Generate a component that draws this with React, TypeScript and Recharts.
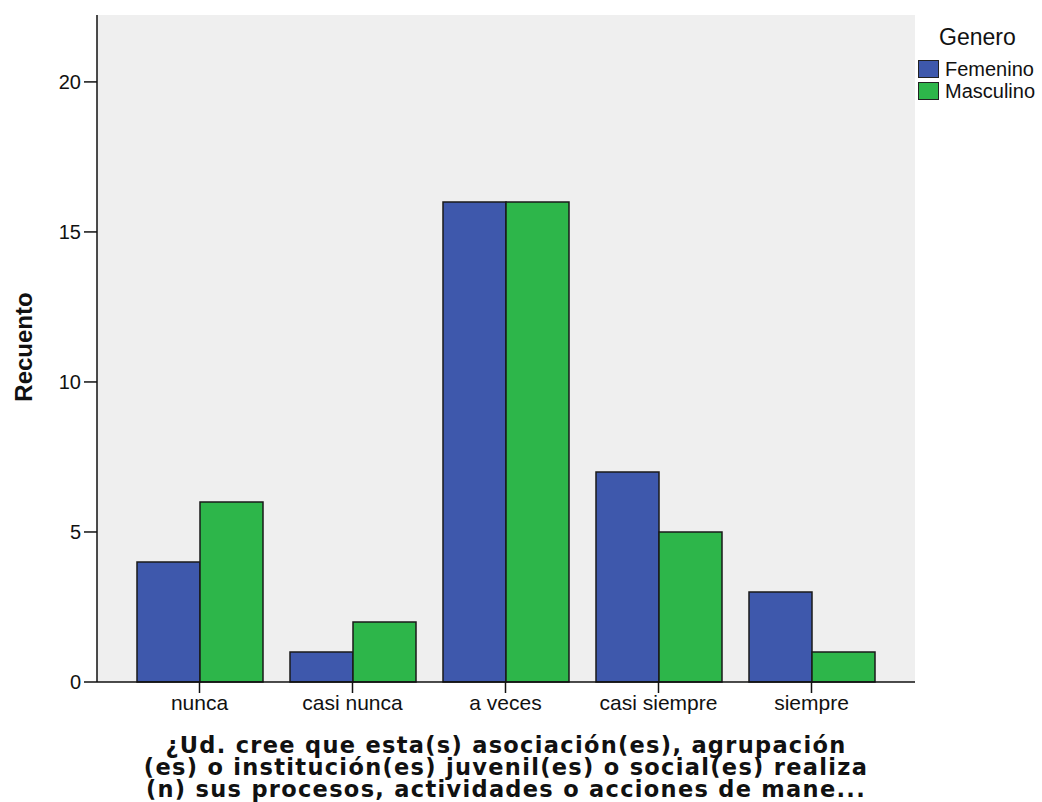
import { BarChart, Bar, XAxis, YAxis, CartesianGrid, Legend } from 'recharts';

const categories = ['nunca', 'casi nunca', 'a veces', 'casi siempre', 'siempre'];
const femenino = [4, 1, 16, 7, 3];
const masculino = [6, 2, 16, 5, 1];
const yTicks = [0, 5, 10, 15, 20];
const titleLines = [
  '¿Ud. cree que esta(s) asociación(es), agrupación',
  '(es) o institución(es) juvenil(es) o social(es) realiza',
  '(n) sus procesos, actividades o acciones de mane...',
];

const BLUE = '#3E58AC';
const GREEN = '#2DB64A';
const SANS = '"Liberation Sans", Arial, sans-serif';

const data = categories.map((c, i) => ({
  name: c,
  Femenino: femenino[i],
  Masculino: masculino[i],
}));

function GeneroLegend() {
  const items = [
    { label: 'Femenino', color: BLUE },
    { label: 'Masculino', color: GREEN },
  ];
  return (
    <div style={{ fontFamily: SANS, color: '#111' }}>
      <div style={{ fontSize: 23, marginLeft: 21, lineHeight: '26px' }}>Genero</div>
      <div style={{ marginTop: 8 }}>
        {items.map((it) => (
          <div key={it.label} style={{ display: 'flex', alignItems: 'center', height: 22 }}>
            <span
              style={{
                display: 'inline-block',
                width: 19,
                height: 16,
                background: it.color,
                border: '1px solid #222',
                marginRight: 6,
              }}
            />
            <span style={{ fontSize: 20 }}>{it.label}</span>
          </div>
        ))}
      </div>
    </div>
  );
}

export default function App() {
  return (
    <div style={{ position: 'absolute', left: 0, top: 0, background: '#fff' }}>
      <BarChart
        width={1042}
        height={802}
        data={data}
        margin={{ top: 15, right: 127, bottom: 90, left: 0 }}
        barGap={0}
        barSize={63}
      >
        <CartesianGrid horizontal={false} vertical={false} fill="#EFEFEF" />
        <XAxis
          dataKey="name"
          height={30}
          padding={{ left: 26, right: 27 }}
          tickSize={11}
          tickLine={{ stroke: '#111', strokeWidth: 1.5 }}
          axisLine={{ stroke: '#111', strokeWidth: 1.5 }}
          tick={{ fill: '#111', fontSize: 21, fontFamily: SANS }}
          interval={0}
          label={{
            position: 'bottom',
            content: () => (
              <text
                x={506}
                textAnchor="middle"
                fill="#111"
                style={{
                  fontFamily: '"DejaVu Sans", Verdana, sans-serif',
                  fontWeight: 'bold',
                  fontSize: 22.5,
                  letterSpacing: 1.3,
                }}
              >
                {titleLines.map((l, i) => (
                  <tspan key={i} x={506} y={753 + i * 22}>
                    {l}
                  </tspan>
                ))}
              </text>
            ),
          }}
        />
        <XAxis
          xAxisId="top"
          dataKey="name"
          orientation="top"
          height={0}
          tick={false}
          tickLine={false}
          axisLine={{ stroke: '#888', strokeWidth: 2 }}
        />
        <YAxis
          width={97}
          domain={[0, 22.23]}
          ticks={yTicks}
          tickSize={13}
          tickMargin={3}
          tickLine={{ stroke: '#111', strokeWidth: 1.5 }}
          axisLine={{ stroke: '#111', strokeWidth: 1.5 }}
          tick={{ fill: '#111', fontSize: 20, fontFamily: SANS }}
          label={{
            position: 'left',
            content: () => (
              <text
                x={23}
                y={347}
                textAnchor="middle"
                dominantBaseline="central"
                transform="rotate(-90 23 347)"
                fill="#111"
                style={{ fontFamily: SANS, fontWeight: 'bold', fontSize: 24 }}
              >
                Recuento
              </text>
            ),
          }}
        />
        <YAxis
          yAxisId="right"
          orientation="right"
          width={0}
          domain={[0, 22.23]}
          tick={false}
          tickLine={false}
          axisLine={{ stroke: '#888', strokeWidth: 2 }}
        />
        <Legend
          layout="vertical"
          verticalAlign="middle"
          align="center"
          wrapperStyle={{ left: 918, top: 24, width: 124 }}
          content={() => <GeneroLegend />}
        />
        <Bar dataKey="Femenino" fill={BLUE} stroke="#1a1a1a" strokeWidth={1.5} isAnimationActive={false} />
        <Bar dataKey="Masculino" fill={GREEN} stroke="#1a1a1a" strokeWidth={1.5} isAnimationActive={false} />
      </BarChart>
    </div>
  );
}
